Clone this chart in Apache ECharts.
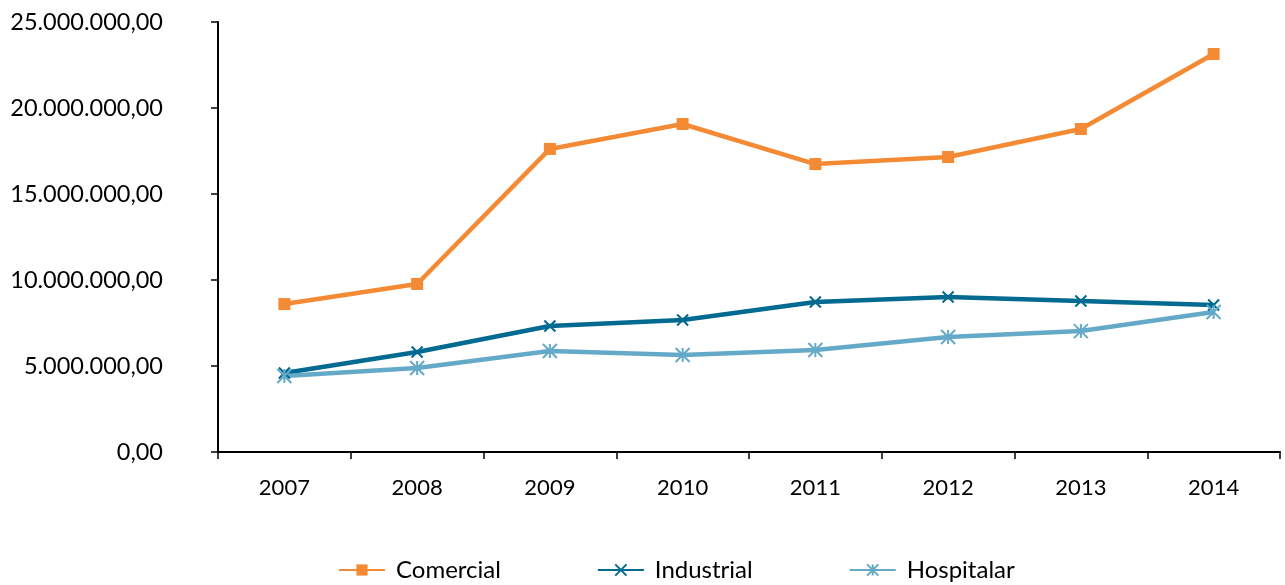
<!DOCTYPE html>
<html>
<head>
<meta charset="utf-8">
<script src="https://cdn.jsdelivr.net/npm/echarts@6/dist/echarts.min.js"></script>
<style>
  html, body { margin: 0; padding: 0; background: #fff; }
  #chart { width: 1285px; height: 585px; }
</style>
</head>
<body>
<div id="chart"></div>
<script>
// Categories (years)
const years = ['2007', '2008', '2009', '2010', '2011', '2012', '2013', '2014'];

// Series values
const comercial  = [8600000, 9770000, 17620000, 19070000, 16740000, 17150000, 18780000, 23140000];
const industrial = [4590000, 5810000, 7330000, 7670000, 8720000, 9010000, 8780000, 8550000];
const hospitalar = [4420000, 4880000, 5870000, 5640000, 5930000, 6690000, 7030000, 8140000];

const seriesNames = ['Comercial', 'Industrial', 'Hospitalar'];

// Y axis range
const yMin = 0;
const yMax = 25000000;
const yStep = 5000000;

const FONT = 'Lato, "Liberation Sans", sans-serif';
const AXIS = '#000000';

// Marker shapes: square, cross, asterisk
const crossSymbol = 'path://M0,0L10,10M10,0L0,10';
const starSymbol = 'path://M5,0L5,10M0,0L10,10M10,0L0,10';

function fmt(v) {
  const s = Math.round(v).toString().replace(/\B(?=(\d{3})+(?!\d))/g, '.');
  return s + ',00';
}

const chart = echarts.init(document.getElementById('chart'), null, { renderer: 'canvas' });

chart.setOption({
  animation: false,
  backgroundColor: '#ffffff',
  grid: { left: 218, right: 5, top: 22, bottom: 133, containLabel: false },
  legend: {
    top: 558,
    left: 338,
    itemGap: 96,
    itemWidth: 46,
    itemHeight: 14,
    padding: 0,
    textStyle: { fontFamily: FONT, fontSize: 24, color: '#000', padding: [0, 0, 0, 6] },
    data: seriesNames
  },
  xAxis: {
    type: 'category',
    data: years,
    boundaryGap: true,
    axisLine: { lineStyle: { color: AXIS, width: 2 } },
    axisTick: { show: true, length: 7, lineStyle: { color: AXIS, width: 1.5 } },
    axisLabel: { fontFamily: FONT, fontSize: 22, color: '#000', margin: 25 },
    splitLine: { show: false }
  },
  yAxis: {
    type: 'value',
    min: yMin,
    max: yMax,
    interval: yStep,
    axisLine: { show: true, lineStyle: { color: AXIS, width: 2 } },
    axisTick: { show: true, length: 7, lineStyle: { color: AXIS, width: 1.5 } },
    axisLabel: { fontFamily: FONT, fontSize: 23.5, color: '#000', margin: 55, formatter: fmt },
    splitLine: { show: false }
  },
  series: [
    {
      name: seriesNames[0],
      type: 'line',
      data: comercial,
      symbol: 'rect',
      symbolSize: 12,
      lineStyle: { color: '#F58A35', width: 4.5 },
      itemStyle: { color: '#F58A35' }
    },
    {
      name: seriesNames[1],
      type: 'line',
      data: industrial,
      symbol: crossSymbol,
      symbolSize: 11,
      lineStyle: { color: '#006A91', width: 4.5 },
      itemStyle: { color: '#006A91', borderColor: '#006A91', borderWidth: 2 }
    },
    {
      name: seriesNames[2],
      type: 'line',
      data: hospitalar,
      symbol: starSymbol,
      symbolSize: 14,
      lineStyle: { color: '#65A9C9', width: 4.5 },
      itemStyle: { color: '#65A9C9', borderColor: '#65A9C9', borderWidth: 2 }
    }
  ]
});
</script>
</body>
</html>
